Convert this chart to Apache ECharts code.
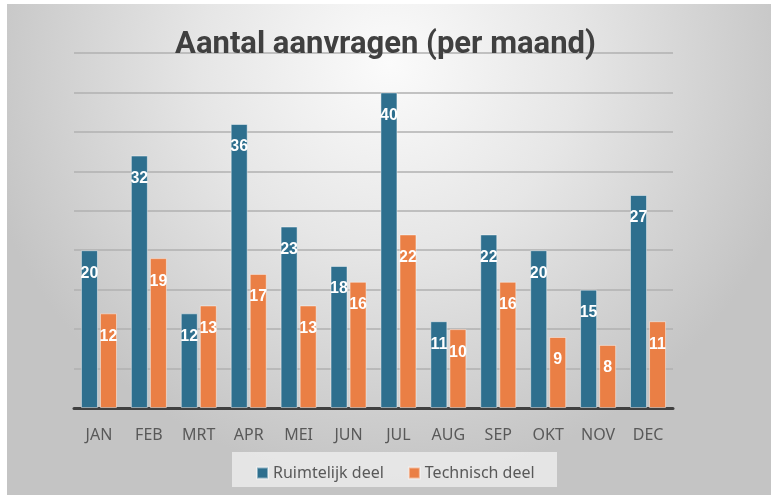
<!DOCTYPE html>
<html>
<head>
<meta charset="utf-8">
<script src="https://cdn.jsdelivr.net/npm/echarts@6/dist/echarts.min.js"></script>
<style>
html,body{margin:0;padding:0;background:#fff;}
#c{width:771px;height:495px;}
</style>
</head>
<body>
<div id="c"></div>
<script>
const months = ['JAN','FEB','MRT','APR','MEI','JUN','JUL','AUG','SEP','OKT','NOV','DEC'];
const ruimtelijk = [20,32,12,36,23,18,40,11,22,20,15,27];
const technisch = [12,19,13,17,13,16,22,10,16,9,8,11];
const seriesNames = ['Ruimtelijk deel','Technisch deel'];
const titleText = 'Aantal aanvragen (per maand)';

const chart = echarts.init(document.getElementById('c'), null, {renderer:'canvas'});
const labelStyle = {
  show:true, position:'insideTop', distance:15,
  color:'#ffffff', fontWeight:'bold', fontSize:16,
  fontFamily:"'Liberation Sans', Arial, sans-serif"
};
chart.setOption({
  animation:false,
  graphic:[
    {type:'rect', z:-10, shape:{x:7,y:4,width:764,height:491},
     style:{fill:new echarts.graphic.RadialGradient(0.5,0.12,0.85,[
       {offset:0,color:'#fbfbfb'},{offset:0.45,color:'#e6e6e6'},{offset:1,color:'#c4c4c4'}])}},
    {type:'rect', z:-5, shape:{x:232,y:452,width:325,height:35},
     style:{fill:'rgba(240,240,240,0.75)'}}
  ],
  title:{
    text:titleText, left:'center', top:25,
    textStyle:{fontFamily:"Roboto, sans-serif",
      fontWeight:'bold', fontSize:31, color:'#404040'}
  },
  grid:{left:74, right:98, top:53, bottom:87},
  legend:{
    data:seriesNames, bottom:9, left:251, itemWidth:11, itemHeight:11, itemGap:24,
    icon:'rect',
    textStyle:{color:'#595959', fontSize:16, fontFamily:"'Noto Sans', sans-serif"}
  },
  xAxis:{
    type:'category', data:months,
    axisLine:{lineStyle:{color:'#404040', width:3}},
    axisTick:{show:false},
    axisLabel:{color:'#595959', fontSize:16, margin:19, fontFamily:"'Noto Sans', sans-serif"}
  },
  yAxis:{
    type:'value', min:0, max:45, interval:5,
    axisLabel:{show:false}, axisLine:{show:false}, axisTick:{show:false},
    splitLine:{lineStyle:{color:'#b0b0b0', width:1.5}}
  },
  series:[
    {name:seriesNames[0], type:'bar', data:ruimtelijk, barWidth:17, barGap:'12%',
     itemStyle:{color:'#2e6f8e', borderColor:'rgba(255,255,255,0.45)', borderWidth:1},
     label:labelStyle},
    {name:seriesNames[1], type:'bar', data:technisch, barWidth:17,
     itemStyle:{color:'#ea7f45', borderColor:'rgba(255,255,255,0.45)', borderWidth:1},
     label:labelStyle}
  ]
});
</script>
</body>
</html>
